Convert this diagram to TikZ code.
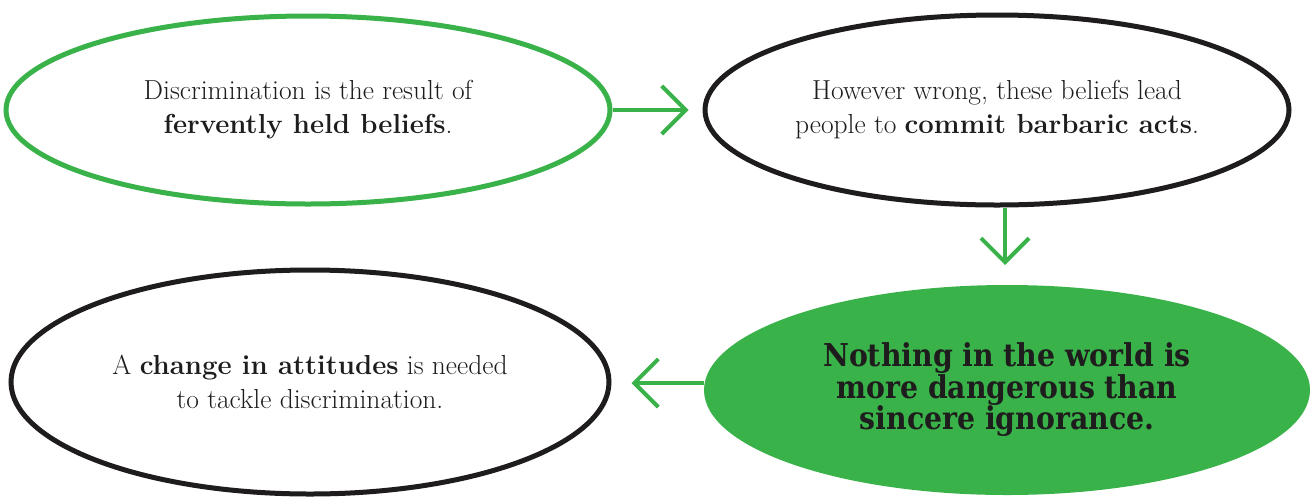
\documentclass[tikz,border=0pt]{standalone}
\usepackage{fontspec}
\newfontfamily\slabbold{DejaVu Serif Condensed}[BoldFont={DejaVu Serif Condensed Bold}]
\usetikzlibrary{shapes.geometric,arrows.meta}
\definecolor{lgreen}{RGB}{58,178,74}
\definecolor{ink}{RGB}{30,28,29}
\tikzset{
  bubble/.style={ellipse, inner sep=0pt, line width=5pt, align=center, text=ink,
    font=\fontsize{27.5}{34}\selectfont},
  greenring/.style={bubble, draw=lgreen, fill=white},
  blackring/.style={bubble, draw=ink, fill=white},
  greenblob/.style={bubble, draw=lgreen, fill=lgreen, line width=2pt,
    font=\slabbold\bfseries\fontsize{31.5}{31.5}\selectfont},
  flow/.style={draw=lgreen, line width=4pt,
    -{Straight Barb[length=24pt,width=48pt,line width=4pt]}},
}
\begin{document}
\begin{tikzpicture}[x=1pt,y=-1pt]
\useasboundingbox (0,0) rectangle (1315,499);
\node[greenring, minimum width=604pt, minimum height=188pt] (e1) at (308,110)
  {Discrimination is the result of\\\textbf{fervently held beliefs}.};
\node[blackring, minimum width=584pt, minimum height=190pt] (e2) at (997,110)
  {However wrong, these beliefs lead\\people to \textbf{commit barbaric acts}.};
\node[greenblob, minimum width=604pt, minimum height=208pt] (e3) at (1007,390)
  {Nothing in the world is\\more dangerous than\\sincere ignorance.};
\node[blackring, minimum width=598pt, minimum height=224pt] (e4) at (310,382)
  {A \textbf{change in attitudes} is needed\\to tackle discrimination.};
\coordinate (a3) at (e3.west |- 0,383);
\draw[flow, shorten >=14pt] (e1.east) -- (e2.west);
\draw[flow, shorten >=20pt] (e2.south -| 1005,0) -- (e3.north -| 1005,0);
\draw[flow, shorten >=20pt] (a3) -- (a3 -| e4.east);
\end{tikzpicture}
\end{document}
